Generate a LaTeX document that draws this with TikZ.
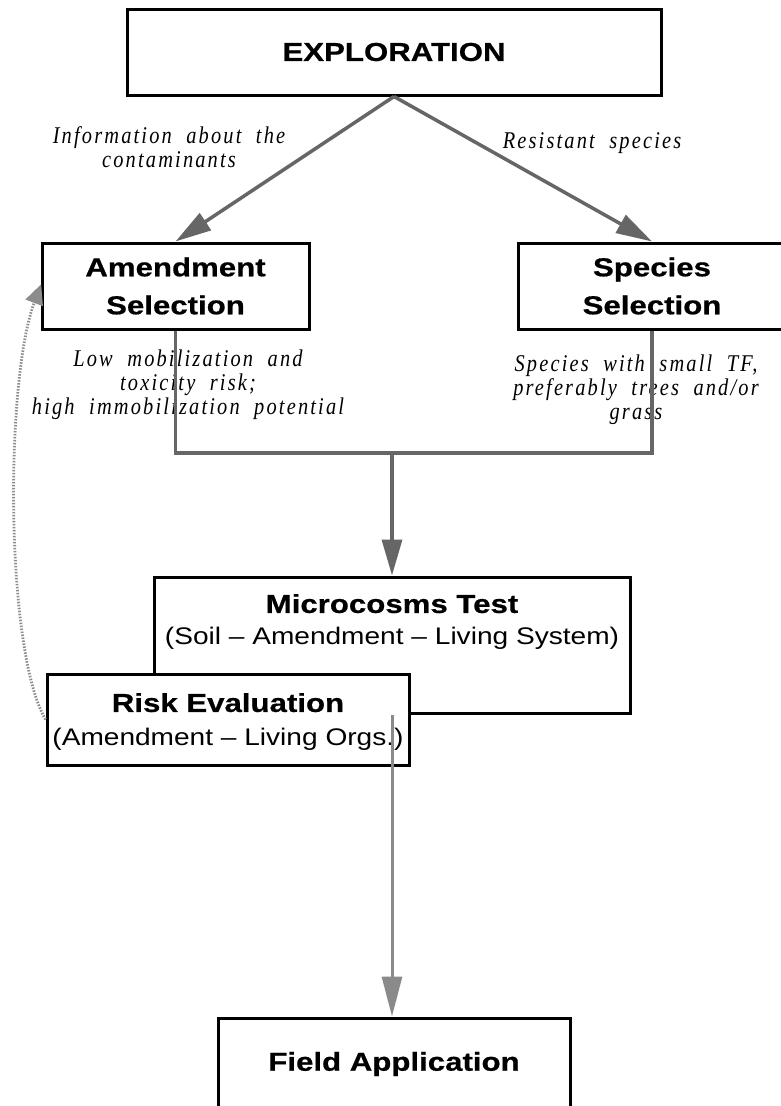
\documentclass[tikz,border=0pt]{standalone}
\usepackage{fontspec}
\usetikzlibrary{arrows.meta}
\newfontfamily\bxfont{Liberation Sans}[FakeStretch=1.2,BoldFeatures={FakeBold=0.6}]
\newfontfamily\rgfont{Liberation Sans}[FakeStretch=1.17]
\newfontfamily\lblfont{Liberation Serif}[FakeStretch=0.85,LetterSpace=9,WordSpace=2]
\definecolor{arrowgray}{HTML}{666666}
\definecolor{lightgray2}{HTML}{8A8A8A}
\definecolor{dotgray}{HTML}{8C8C8C}
\begin{document}
\begin{tikzpicture}[x=1pt,y=-1pt,
  box/.style={draw=black,line width=3pt,fill=white,inner sep=0pt,align=center},
  boldtxt/.style={font=\bxfont\bfseries\fontsize{26}{38}\selectfont},
  lbl/.style={font=\lblfont\itshape\fontsize{24}{24}\selectfont,align=center,inner sep=0pt},
  conn/.style={draw=arrowgray,line width=3.5pt},
  arr/.style={conn,-{Triangle[length=36pt,width=20pt]}},
]
\useasboundingbox (0,0) rectangle (780,1106);

% boxes
\node[box,boldtxt,minimum width=534pt,minimum height=86pt] (expl) at (394,52) {EXPLORATION};
\node[box,boldtxt,minimum width=267pt,minimum height=86pt] (amend) at (175.5,286) {Amendment\\Selection};
\node[box,boldtxt,minimum width=268pt,minimum height=86pt] (species) at (652,286) {Species\\Selection};
\node[box,minimum width=476pt,minimum height=136pt] (micro) at (392,645) {};
\node[align=center,inner sep=0pt,font=\fontsize{24}{32}\selectfont] (microT) at (392,622)
  {{\bxfont\bfseries\fontsize{26}{32}\selectfont Microcosms Test}\\
   {\rgfont (Soil – Amendment – Living System)}};
\node[box,minimum width=362pt,minimum height=91pt] (risk) at (228,719.5) {};
\node[align=center,inner sep=0pt,font=\fontsize{24}{34}\selectfont] (riskT) at (228,722)
  {{\bxfont\bfseries\fontsize{26}{34}\selectfont Risk Evaluation}\\
   {\rgfont (Amendment – Living Orgs.)}};
\node[box,boldtxt,minimum width=352pt,minimum height=92pt] (field) at (394,1064) {Field Application};

% labels
\node[lbl] (info) at (169,147) {Information about the\\contaminants};
\node[lbl] (resist) at (592,143) {Resistant species};
\node[lbl] (low) at (188,385) {Low mobilization and\\toxicity risk;\\high immobilization potential};
\node[lbl] (spec) at (636,390) {Species with small TF,\\preferably trees and/or\\grass};

% connectors
\draw[arr] (expl.south) -- (amend.north);
\draw[arr] (expl.south) -- (species.north);
\coordinate (join) at (392,453);
\draw[conn] (amend.south) |- (join) -| (species.south);
\draw[arr] (join) -- (micro.north);
\draw[draw=lightgray2,line width=3pt,-{Triangle[length=40pt,width=20pt,fill=lightgray2]}] (micro.south) -- (micro.south |- field.north);
\draw[draw=dotgray,line width=2.8pt,dash pattern=on 1.5pt off 1.5pt,
  -{Triangle[length=20pt,width=18pt,fill=dotgray,sep=-2pt]}]
  (risk.west) .. controls (5,650) and (5,380) .. (amend.west);
\end{tikzpicture}
\end{document}
